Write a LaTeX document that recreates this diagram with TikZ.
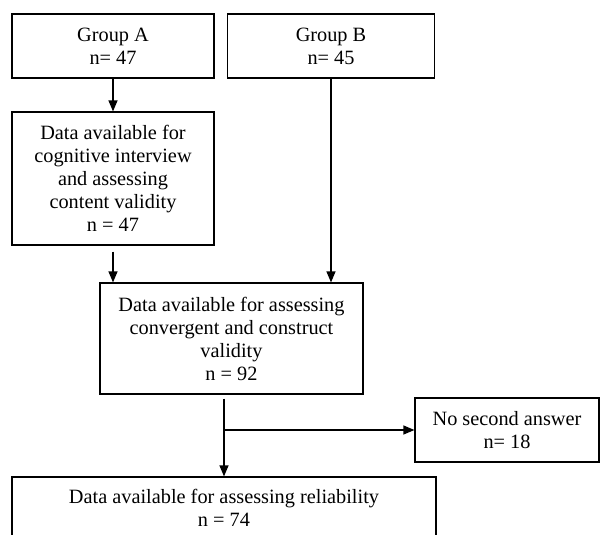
\documentclass[tikz,border=0pt]{standalone}
\usepackage{fontspec}
\setmainfont{Liberation Serif}
\usetikzlibrary{arrows.meta}
\tikzset{
  box/.style={draw, line width=1.2pt, align=center, inner sep=0pt,
    font=\fontsize{20.3}{23}\selectfont},
  arr/.style={line width=1.2pt, -{Triangle[length=11pt,width=9pt]}}
}
\begin{document}
\begin{tikzpicture}[x=1pt,y=1pt]
      \useasboundingbox (0,0) rectangle (600,-535);
      \draw
        (113,-46) node[box, minimum width=202, minimum height=64] (grpA) {Group A\\n= 47}
        (331,-46) node[box, minimum width=207, minimum height=64] (grpB) {Group B\\n= 45}
        (113,-178.5) node[box, minimum width=202, minimum height=133] (cogn)
          {Data available for\\cognitive interview\\and assessing\\content validity\\n = 47}
        (231.5,-338.5) node[box, minimum width=263, minimum height=111] (conv)
          {Data available for assessing\\convergent and construct\\validity\\n = 92}
        (507,-430) node[box, minimum width=184, minimum height=64] (nosec) {No second answer\\n= 18}
        (224,-508) node[box, minimum width=424, minimum height=62] (rel)
          {Data available for assessing reliability\\n = 74};
      \coordinate (split) at (rel.north |- nosec.west);
      \begin{scope}[arr]
        \draw (grpA) to (cogn);
        \draw (grpB.south) to (grpB.south |- conv.north);
        \draw ([yshift=-6pt]cogn.south) to (cogn.south |- conv.north);
        \draw ([yshift=-4pt]conv.south -| rel.north) to (rel.north);
        \draw (split) to (nosec.west);
      \end{scope}
    \end{tikzpicture}
\end{document}
